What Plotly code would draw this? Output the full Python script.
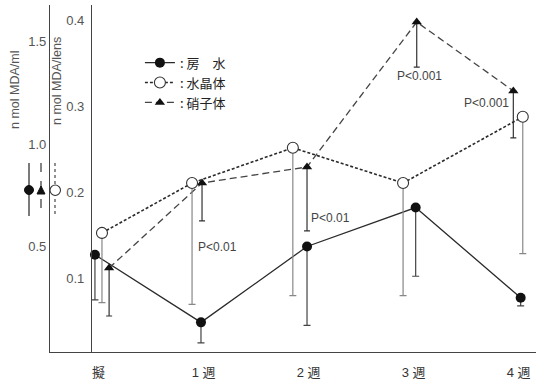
import plotly.graph_objects as go

# ---- data ----
categories = ["擬", "1 週", "2 週", "3 週", "4 週"]
cat_pos = [0, 1, 2, 3, 4]

# 房水 (aqueous humor) n mol MDA/ml
aqueous_mean = [0.46, 0.13, 0.50, 0.69, 0.25]
aqueous_sd = [0.22, 0.10, 0.385, 0.335, 0.04]

# 水晶体 (lens) n mol MDA/lens
lens_mean = [0.153, 0.211, 0.252, 0.211, 0.288]
lens_sd = [0.081, 0.141, 0.172, 0.131, 0.159]

# 硝子体 (vitreous) n mol MDA/ml
vitreous_mean = [0.395, 0.81, 0.888, 1.595, 1.259]
vitreous_sd = [0.234, 0.185, 0.312, 0.22, 0.229]

ml_ticks = [0.5, 1.0, 1.5]
lens_ticks = [0.1, 0.2, 0.3, 0.4]

p_labels = ["P<0.01", "P<0.01", "P<0.001", "P<0.001"]
p_cat = [1, 2, 3, 4]

# horizontal offsets of the three series around each category (layout only)
off_aq = [-0.035, -0.025, -0.015, 0.02, 0.02]
off_lens = [0.032, -0.11, -0.15, -0.10, 0.04]
off_vit = [0.10, -0.015, -0.015, 0.03, -0.05]
p_off = [(0.137, -0.31), (0.204, -0.25), (0.061, -0.265), (-0.31, -0.06)]

FONT = "Liberation Sans, Arial, Noto Sans CJK JP, sans-serif"
CJK = "Noto Sans CJK JP, sans-serif"


def shift(pos, off):
    return [p + o for p, o in zip(pos, off)]


fig = go.Figure()

fig.add_trace(go.Scatter(
    x=shift(cat_pos, off_aq), y=aqueous_mean, name=": 房　水",
    mode="lines+markers",
    line=dict(color="#2a2a2a", width=1.3),
    marker=dict(symbol="circle", size=10, color="#111"),
    error_y=dict(type="data", symmetric=False, array=[0] * 5,
                 arrayminus=aqueous_sd, color="#444", thickness=1.2, width=3.5),
    yaxis="y",
))
fig.add_trace(go.Scatter(
    x=shift(cat_pos, off_lens), y=lens_mean, name=": 水晶体",
    mode="lines+markers",
    line=dict(color="#2a2a2a", width=1.6, dash="3px,2px"),
    marker=dict(symbol="circle", size=11, color="white",
                line=dict(color="#333", width=1.1)),
    error_y=dict(type="data", symmetric=False, array=[0] * 5,
                 arrayminus=lens_sd, color="#888", thickness=1.2, width=3.5),
    yaxis="y2",
))
fig.add_trace(go.Scatter(
    x=shift(cat_pos, off_vit), y=vitreous_mean, name=": 硝子体",
    mode="lines+markers",
    line=dict(color="#444", width=1.3, dash="7px,4px"),
    marker=dict(symbol="triangle-up", size=9, color="#111"),
    error_y=dict(type="data", symmetric=False, array=[0] * 5,
                 arrayminus=vitreous_sd, color="#333", thickness=1.2, width=3),
    yaxis="y",
))

# P-value labels
for lab, c, (dx, dy) in zip(p_labels, p_cat, p_off):
    fig.add_annotation(x=c + dx, y=vitreous_mean[c] + dy, xref="x", yref="y",
                       text=lab, showarrow=False, xanchor="center", yanchor="middle",
                       font=dict(family=FONT, size=12, color="#444"))

# axis titles
fig.add_annotation(x=-0.072, y=0.755, xref="paper", yref="paper",
                   text="n mol MDA/ml", textangle=-90, showarrow=False,
                   xanchor="center", yanchor="middle",
                   font=dict(family=FONT, size=12.5, color="#555"))
fig.add_annotation(x=0.0144, y=0.781, xref="paper", yref="paper",
                   text="n mol MDA/lens", textangle=-90, showarrow=False,
                   xanchor="center", yanchor="middle",
                   font=dict(family=FONT, size=12.5, color="#555"))

# key symbols beside the axes (mean ± SD style)
def px_x(px):
    return (px - 50) / 486.0


def px_y(py):
    return (352 - py) / 347.0


for xx, dash, col in [(29, "solid", "#333"), (41, "dash", "#444"), (55, "dot", "#555")]:
    fig.add_shape(type="line", xref="paper", yref="paper",
                  x0=px_x(xx), x1=px_x(xx), y0=px_y(163), y1=px_y(216),
                  line=dict(color=col, width=1.3, dash=dash))
fig.add_shape(type="circle", xref="paper", yref="paper",
              x0=px_x(24.5), x1=px_x(33.5), y0=px_y(194.5), y1=px_y(185.5),
              fillcolor="#111", line=dict(color="#111", width=1))
fig.add_shape(type="path", xref="paper", yref="paper",
              path=f"M {px_x(37)} {px_y(194)} L {px_x(45)} {px_y(194)} L {px_x(41)} {px_y(186)} Z",
              fillcolor="#111", line=dict(color="#111", width=1))
fig.add_shape(type="circle", xref="paper", yref="paper",
              x0=px_x(50), x1=px_x(60.5), y0=px_y(195.5), y1=px_y(185),
              fillcolor="white", line=dict(color="#333", width=1.1))

fig.update_layout(
    width=536, height=391,
    margin=dict(l=50, r=0, t=5, b=39, autoexpand=False),
    paper_bgcolor="white", plot_bgcolor="white",
    showlegend=True,
    legend=dict(x=0.185, y=0.877, xanchor="left", yanchor="top",
                bgcolor="rgba(0,0,0,0)", borderwidth=0,
                font=dict(family=CJK, size=13, color="#222"),
                itemwidth=30, tracegroupgap=0),
    xaxis=dict(range=[-0.463, 4.166], tickvals=cat_pos, ticktext=categories,
               showline=True, linecolor="#444", linewidth=1.2,
               showgrid=False, zeroline=False, ticks="", automargin=False,
               ticklabelstandoff=8,
               tickfont=dict(family=FONT, size=13, color="#333")),
    yaxis=dict(range=[-0.0146, 1.678], tickvals=ml_ticks,
               ticktext=[f"{v:.1f}" for v in ml_ticks],
               showline=True, linecolor="#444", linewidth=1.2,
               showgrid=False, zeroline=False, ticks="", automargin=False,
               tickfont=dict(family=FONT, size=13, color="#555")),
    yaxis2=dict(range=[0.01453, 0.418], tickvals=lens_ticks,
                ticktext=[f"{v:.1f}" for v in lens_ticks],
                overlaying="y", anchor="free", position=0.0844, side="left",
                showline=True, linecolor="#444", linewidth=1.2,
                showgrid=False, zeroline=False, ticks="", automargin=False,
                ticklabelstandoff=4,
                tickfont=dict(family=FONT, size=13, color="#555")),
)

fig.write_html("out.html",
               config={"displayModeBar": False},
               post_script="document.body.style.margin='0px';document.body.style.overflow='hidden';")
